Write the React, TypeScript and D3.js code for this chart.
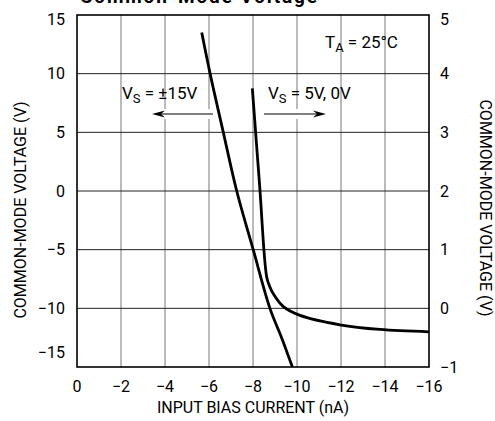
import React, { useRef, useEffect } from 'react';
import * as d3 from 'd3';

// current axis (nA) and the two voltage axes
const xTicks = [0, -2, -4, -6, -8, -10, -12, -14, -16];
const leftTicks = [-15, -10, -5, 0, 5, 10, 15];
const rightTicks = [-1, 0, 1, 2, 3, 4, 5];

// VS = ±15V curve (left axis)
const dualCurrent = [-5.67, -6.05, -6.65, -7.26, -8.01, -8.77, -9.3, -9.79];
const dualVoltage = [13.5, 10, 5, 0, -5, -10, -12.5, -15];

// VS = 5V, 0V curve (right axis)
const singleCurrent = [-7.97, -8.3, -8.62, -8.75, -8.92, -9.38, -10.14, -11.95, -13.77, -16];
const singleVoltage = [3.75, 2.1, 0.54, 0.38, 0.25, 0.03, -0.12, -0.28, -0.36, -0.4];

const W = 495;
const H = 421;
const FONT = "Roboto, 'Liberation Sans', Arial, sans-serif";
const fmt = (v: number) => (v < 0 ? '\u2212' + Math.abs(v) : String(v));

const App: React.FC = () => {
    const svgRef = useRef<SVGSVGElement | null>(null);

    useEffect(() => {
        const svg = d3.select(svgRef.current);
        svg.selectAll('*').remove();

        const left = 77, right = 429, top = 15, bottom = 367;
        const x = d3.scaleLinear().domain([0, -16]).range([left, right]);
        const yL = d3.scaleLinear().domain([-15, 15]).range([bottom, top]);
        const yR = d3.scaleLinear().domain([-1, 5]).range([bottom, top]);

        svg.append('rect').attr('width', W).attr('height', H).attr('fill', '#fff');

        // title, cut off by the top edge as in the source
        svg.append('text')
            .attr('x', 80)
            .attr('y', 3)
            .attr('font-family', FONT)
            .attr('font-weight', 'bold')
            .attr('font-size', 19)
            .attr('textLength', 237)
            .text('Common-Mode Voltage');

        // grid
        svg.append('g').selectAll('line')
            .data(xTicks.slice(1, -1))
            .enter().append('line')
            .attr('x1', d => x(d)).attr('x2', d => x(d))
            .attr('y1', top).attr('y2', bottom)
            .attr('stroke', '#777').attr('stroke-width', 1);
        svg.append('g').selectAll('line')
            .data(leftTicks.slice(1, -1))
            .enter().append('line')
            .attr('x1', left).attr('x2', right)
            .attr('y1', d => yL(d)).attr('y2', d => yL(d))
            .attr('stroke', '#222').attr('stroke-width', 1);

        svg.append('rect')
            .attr('x', left).attr('y', top)
            .attr('width', right - left).attr('height', bottom - top)
            .attr('fill', 'none').attr('stroke', '#000').attr('stroke-width', 1.6);

        // tick labels
        const tickFont = 16;
        svg.append('g').selectAll('text')
            .data(leftTicks)
            .enter().append('text')
            .attr('x', 65)
            .attr('y', d => Math.max(Math.min(yL(d), bottom - 15), top + 4))
            .attr('dy', '0.35em')
            .attr('text-anchor', 'end')
            .attr('font-family', FONT).attr('font-size', tickFont)
            .text(d => fmt(d));
        svg.append('g').selectAll('text')
            .data(rightTicks)
            .enter().append('text')
            .attr('x', 440)
            .attr('y', d => Math.max(yR(d), top + 4))
            .attr('dy', '0.35em')
            .attr('text-anchor', 'start')
            .attr('font-family', FONT).attr('font-size', tickFont)
            .text(d => fmt(d));
        svg.append('g').selectAll('text')
            .data(xTicks)
            .enter().append('text')
            .attr('x', d => x(d))
            .attr('y', 392)
            .attr('text-anchor', 'middle')
            .attr('font-family', FONT).attr('font-size', tickFont)
            .text(d => fmt(d));

        // axis titles
        svg.append('text')
            .attr('transform', `translate(${(left + right) / 2},413)`)
            .attr('text-anchor', 'middle')
            .attr('font-family', FONT).attr('font-size', tickFont)
            .text('INPUT BIAS CURRENT (nA)');
        svg.append('text')
            .attr('transform', 'translate(26,210) rotate(-90)')
            .attr('text-anchor', 'middle')
            .attr('font-family', FONT).attr('font-size', tickFont)
            .text('COMMON-MODE VOLTAGE (V)');
        svg.append('text')
            .attr('transform', 'translate(480,208) rotate(90)')
            .attr('text-anchor', 'middle')
            .attr('font-family', FONT).attr('font-size', tickFont)
            .text('COMMON-MODE VOLTAGE (V)');

        // annotations with white knockouts
        const annFont = 17;
        const addLabel = (tx: number, ty: number, main: string, sub: string, rest: string) => {
            const t = svg.append('text')
                .attr('x', tx).attr('y', ty)
                .attr('font-family', FONT).attr('font-size', annFont);
            t.append('tspan').text(main);
            t.append('tspan').attr('dy', 4).attr('font-size', 13).text(sub);
            t.append('tspan').attr('dy', -4).text(rest);
            const bb = (t.node() as SVGTextElement).getBBox();
            svg.insert('rect', 'text')
                .attr('x', bb.x - 2).attr('y', bb.y)
                .attr('width', bb.width + 4).attr('height', bb.height)
                .attr('fill', '#fff');
        };
        addLabel(325, 48, 'T', 'A', ' = 25\u00B0C');
        addLabel(122, 99, 'V', 'S', ' = \u00B115V');
        addLabel(268, 99, 'V', 'S', ' = 5V, 0V');

        const arrow = (x1: number, x2: number, ay: number) => {
            const dir = Math.sign(x2 - x1);
            svg.append('rect')
                .attr('x', Math.min(x1, x2) - 1).attr('y', ay - 5)
                .attr('width', Math.abs(x2 - x1) + 2).attr('height', 10)
                .attr('fill', '#fff');
            svg.append('line')
                .attr('x1', x1).attr('x2', x2 - dir * 6)
                .attr('y1', ay).attr('y2', ay)
                .attr('stroke', '#000').attr('stroke-width', 1.2);
            svg.append('path')
                .attr('d', `M${x2},${ay} L${x2 - dir * 13},${ay - 3.5} L${x2 - dir * 9},${ay} L${x2 - dir * 13},${ay + 3.5} Z`)
                .attr('fill', '#000');
        };
        arrow(213, 152, 114);
        arrow(264, 326, 114);

        // curves
        const dualPts = dualCurrent.map((c, i) => [x(c), yL(dualVoltage[i])] as [number, number]);
        const singlePts = singleCurrent.map((c, i) => [x(c), yR(singleVoltage[i])] as [number, number]);
        const line = d3.line().curve(d3.curveCatmullRom.alpha(0.5));
        svg.append('path')
            .attr('d', line(dualPts))
            .attr('fill', 'none').attr('stroke', '#000').attr('stroke-width', 2.8);
        svg.append('path')
            .attr('d', line(singlePts))
            .attr('fill', 'none').attr('stroke', '#000').attr('stroke-width', 2.8);
    }, []);

    return (
        <svg ref={svgRef} width={W} height={H}
            style={{ position: 'absolute', left: 0, top: 0, display: 'block' }} />
    );
};

export default App;
